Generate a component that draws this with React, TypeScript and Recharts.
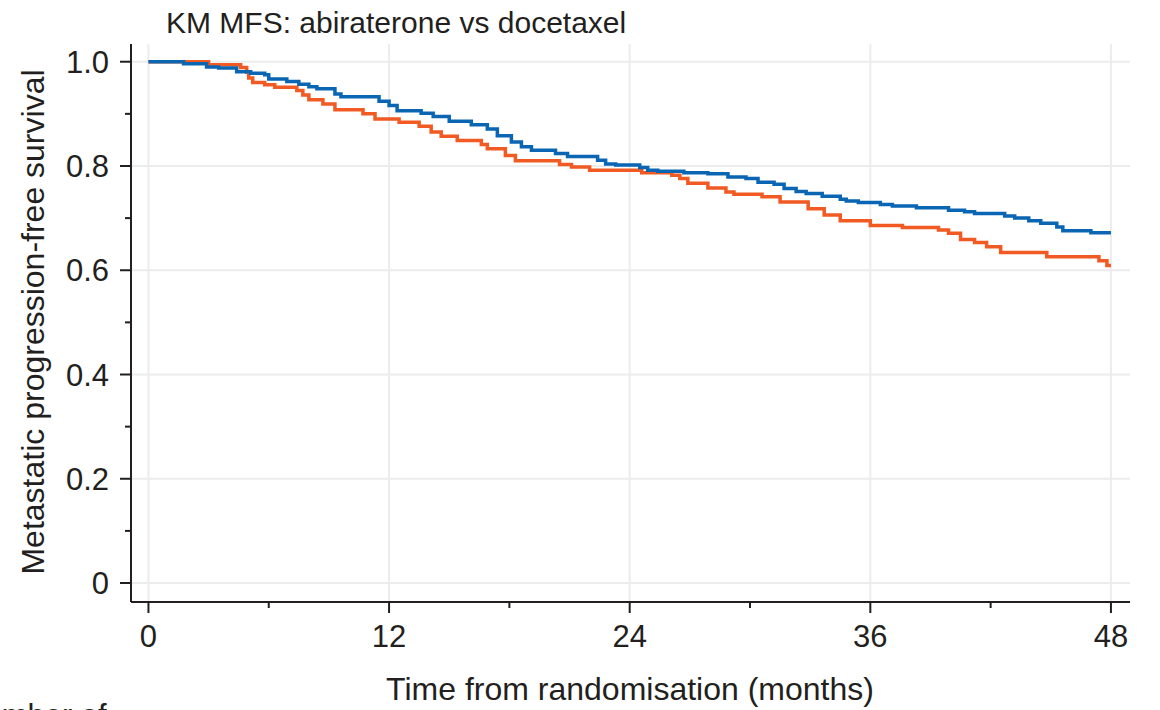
import { CartesianGrid, Line, LineChart, ReferenceLine, XAxis, YAxis } from "recharts";

// KM step points (month of drop -> survival after it)
const abiTimes = [0, 1.75, 2.9, 3.5, 4.4, 5.1, 5.8, 6.0, 6.9, 7.5, 8.0, 8.4, 9.3, 9.6, 11.5, 12.0, 12.4, 13.6, 14.2, 15.0, 16.1, 16.9, 17.4, 18.1, 18.6, 19.1, 20.3, 20.9, 22.4, 22.8, 23.3, 24.5, 24.9, 25.4, 26.7, 27.9, 28.9, 29.8, 30.4, 31.2, 31.7, 32.3, 32.8, 33.6, 34.5, 34.8, 35.4, 36.5, 37.1, 38.3, 39.9, 40.7, 41.2, 42.7, 43.2, 43.9, 44.5, 45.3, 45.6, 47.0, 48.0];
const abiSurv = [1.0, 0.996, 0.99, 0.988, 0.981, 0.978, 0.975, 0.967, 0.962, 0.957, 0.952, 0.948, 0.938, 0.933, 0.924, 0.916, 0.906, 0.901, 0.895, 0.886, 0.879, 0.871, 0.858, 0.846, 0.837, 0.83, 0.824, 0.818, 0.811, 0.804, 0.802, 0.797, 0.792, 0.79, 0.787, 0.785, 0.779, 0.776, 0.769, 0.765, 0.757, 0.751, 0.747, 0.742, 0.736, 0.733, 0.73, 0.726, 0.723, 0.72, 0.715, 0.712, 0.709, 0.704, 0.7, 0.695, 0.69, 0.683, 0.676, 0.672, 0.672];

const doceTimes = [0, 3.0, 4.6, 4.9, 5.0, 5.2, 5.8, 6.3, 7.4, 7.7, 8.0, 8.7, 9.3, 10.7, 11.3, 12.5, 13.5, 14.1, 14.6, 15.4, 16.6, 16.9, 17.8, 18.3, 20.5, 21.1, 22.0, 24.6, 26.1, 26.5, 26.9, 27.9, 28.8, 29.2, 30.6, 31.5, 32.9, 33.7, 34.5, 36.0, 37.6, 39.4, 39.9, 40.5, 41.2, 41.8, 42.5, 44.8, 47.4, 47.8, 48.0];
const doceSurv = [1.0, 0.994, 0.989, 0.98, 0.969, 0.96, 0.956, 0.951, 0.945, 0.936, 0.927, 0.919, 0.908, 0.9, 0.89, 0.884, 0.876, 0.865, 0.857, 0.849, 0.841, 0.833, 0.82, 0.81, 0.803, 0.798, 0.792, 0.787, 0.782, 0.776, 0.767, 0.758, 0.75, 0.746, 0.741, 0.731, 0.718, 0.706, 0.695, 0.686, 0.682, 0.677, 0.671, 0.659, 0.653, 0.645, 0.634, 0.626, 0.618, 0.609, 0.609];

const xTicks = [0, 6, 12, 18, 24, 30, 36, 42, 48];
const xMajor = [0, 12, 24, 36, 48];
const yTicks = [0, 0.1, 0.2, 0.3, 0.4, 0.5, 0.6, 0.7, 0.8, 0.9, 1.0];
const yMajor = [0, 0.2, 0.4, 0.6, 0.8, 1.0];

const abiData = abiTimes.map((t, i) => ({ t, s: abiSurv[i] }));
const doceData = doceTimes.map((t, i) => ({ t, s: doceSurv[i] }));

const INK = "#231f20";
const FONT = "'Liberation Sans', Arial, Helvetica, sans-serif";

function XTick({ x, y, payload }: any) {
  const major = xMajor.includes(payload.value);
  return (
    <g>
      <line x1={x} x2={x} y1={y} y2={y + (major ? 11 : 6)} stroke={INK} strokeWidth={2} />
      {major && (
        <text x={x} y={y + 45} textAnchor="middle" fill={INK} fontSize={31} fontFamily={FONT}>
          {payload.value}
        </text>
      )}
    </g>
  );
}

function YTick({ x, y, payload }: any) {
  const major = yMajor.some((v) => Math.abs(v - payload.value) < 1e-6);
  return (
    <g>
      <line x1={x} x2={x - (major ? 11 : 6)} y1={y} y2={y} stroke={INK} strokeWidth={2} />
      {major && (
        <text x={x - 22} y={y + 11} textAnchor="end" fill={INK} fontSize={31} fontFamily={FONT}>
          {payload.value === 0 ? "0" : payload.value.toFixed(1)}
        </text>
      )}
    </g>
  );
}

export default function App() {
  return (
    <div style={{ position: "absolute", left: 0, top: 0, width: 1160, height: 710, background: "#fff" }}>
      <LineChart width={1160} height={710} margin={{ top: 44, right: 30, bottom: 68, left: 71 }}>
        <CartesianGrid horizontal={false} vertical={false} />
        <XAxis
          dataKey="t"
          type="number"
          domain={[-0.87, 48.95]}
          allowDataOverflow
          ticks={xTicks}
          tick={XTick}
          tickSize={0}
          tickMargin={0}
          height={40}
          axisLine={{ stroke: INK, strokeWidth: 2 }}
        />
        <YAxis
          dataKey="s"
          type="number"
          domain={[-0.0364, 1.034]}
          allowDataOverflow
          ticks={yTicks}
          tick={YTick}
          tickSize={0}
          tickMargin={0}
          width={60}
          axisLine={{ stroke: INK, strokeWidth: 2 }}
        />
        {xMajor.map((v) => (
          <ReferenceLine key={`gx${v}`} x={v} stroke="#ececec" strokeWidth={2} />
        ))}
        {yMajor.map((v) => (
          <ReferenceLine key={`gy${v}`} y={v} stroke="#ececec" strokeWidth={2} />
        ))}
        <Line data={doceData} dataKey="s" type="stepAfter" stroke="#f15a22" strokeWidth={3.5} dot={false} isAnimationActive={false} />
        <Line data={abiData} dataKey="s" type="stepAfter" stroke="#0a66b2" strokeWidth={3.5} dot={false} isAnimationActive={false} />
        <text x={166} y={33} fill={INK} fontSize={30} fontFamily={FONT}>
          KM MFS: abiraterone vs docetaxel
        </text>
        <text x={630} y={700} textAnchor="middle" fill={INK} fontSize={32} fontFamily={FONT}>
          Time from randomisation (months)
        </text>
        <text x={44} y={322} textAnchor="middle" transform="rotate(-90, 44, 322)" fill={INK} fontSize={32} fontFamily={FONT}>
          Metastatic progression-free survival
        </text>
        <text x={-38} y={726} fill={INK} fontSize={31} fontFamily={FONT}>
          Number of
        </text>
      </LineChart>
    </div>
  );
}
